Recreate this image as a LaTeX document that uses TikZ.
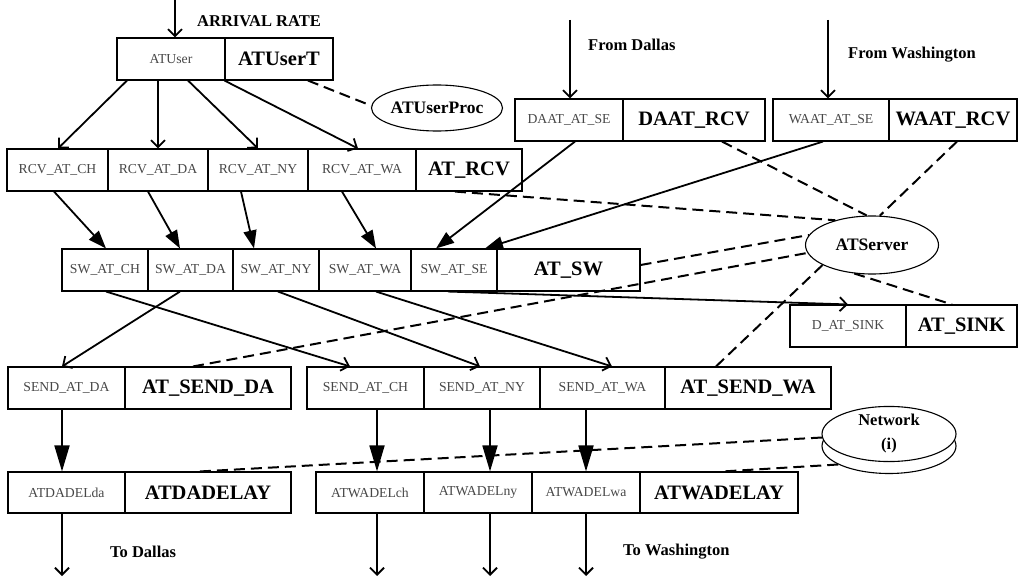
\documentclass[tikz,border=0pt]{standalone}
\usepackage{fontspec}
\setmainfont{Liberation Serif}
\usetikzlibrary{arrows.meta,shapes.geometric}

% one table cell: name, x1, x2, y1, y2, style, text
\newcommand\cellat[7]{%
  \node[#6, minimum width={(#3-#2)*1pt}, minimum height={(#5-#4)*1pt}]
    (#1) at ({(#2+#3)/2},{(#4+#5)/2}) {#7};}

\begin{document}
\begin{tikzpicture}[x=1pt,y=-1pt,
  cell/.style={draw, line width=1.1pt, rectangle, inner sep=0pt, fill=white},
  small/.style={cell, font=\fontsize{13.7}{15}\selectfont, text=black!72},
  big/.style={cell, font=\fontsize{20.5}{23}\selectfont\bfseries},
  oval/.style={draw, ellipse, line width=1.1pt, fill=white, inner sep=0pt,
    font=\fontsize{17.5}{20}\selectfont\bfseries},
  lbl/.style={font=\fontsize{16.5}{19}\selectfont\bfseries, inner sep=0pt, anchor=west},
  flow/.style={line width=1.8pt, -{Straight Barb[length=7pt,width=14pt]}},
  feed/.style={line width=1.8pt, -{Triangle[length=18pt,width=13pt]}},
  drop/.style={line width=1.8pt, -{Triangle[length=26pt,width=15pt]}},
  link/.style={line width=2pt, dash pattern=on 11pt off 6pt},
]
\useasboundingbox (0,0) rectangle (1019,577);

% ---- user source
\cellat{ATUser}{117}{225}{38}{80}{small}{ATUser}
\cellat{ATUserT}{225}{333}{38}{80}{big}{ATUserT}
\node[oval, minimum width=124pt, minimum height=46pt] (ATUserProc) at (437,108) {ATUserProc};

% ---- remote receivers
\cellat{DAATse}{515}{623}{99}{141}{small}{DAAT\_AT\_SE}
\cellat{DAATrcv}{623}{765}{99}{141}{big}{DAAT\_RCV}
\cellat{WAATse}{773}{889}{99}{141}{small}{WAAT\_AT\_SE}
\cellat{WAATrcv}{889}{1017}{99}{141}{big}{WAAT\_RCV}

% ---- receive stage
\cellat{RCVch}{7}{108}{149}{191}{small}{RCV\_AT\_CH}
\cellat{RCVda}{108}{208}{149}{191}{small}{RCV\_AT\_DA}
\cellat{RCVny}{208}{308}{149}{191}{small}{RCV\_AT\_NY}
\cellat{RCVwa}{308}{416}{149}{191}{small}{RCV\_AT\_WA}
\cellat{ATRCV}{416}{522}{149}{191}{big}{AT\_RCV}

% ---- switch stage
\cellat{SWch}{62}{148}{249}{291}{small}{SW\_AT\_CH}
\cellat{SWda}{148}{233}{249}{291}{small}{SW\_AT\_DA}
\cellat{SWny}{233}{319}{249}{291}{small}{SW\_AT\_NY}
\cellat{SWwa}{319}{411}{249}{291}{small}{SW\_AT\_WA}
\cellat{SWse}{411}{497}{249}{291}{small}{SW\_AT\_SE}
\cellat{ATSW}{497}{640}{249}{291}{big}{AT\_SW}

% ---- server
\node[oval, minimum width=133pt, minimum height=58pt] (ATServer) at (872,245) {ATServer};

% ---- sink
\cellat{DSINK}{790}{906}{305}{347}{small}{D\_AT\_SINK}
\cellat{ATSINK}{906}{1017}{305}{347}{big}{AT\_SINK}

% ---- send stage
\cellat{SENDda}{8}{125}{367}{409}{small}{SEND\_AT\_DA}
\cellat{ATSENDda}{125}{291}{367}{409}{big}{AT\_SEND\_DA}
\cellat{SENDch}{307}{424}{367}{409}{small}{SEND\_AT\_CH}
\cellat{SENDny}{424}{540}{367}{409}{small}{SEND\_AT\_NY}
\cellat{SENDwa}{540}{665}{367}{409}{small}{SEND\_AT\_WA}
\cellat{ATSENDwa}{665}{831}{367}{409}{big}{AT\_SEND\_WA}

% ---- delay stage
\cellat{DELda}{8}{125}{472}{513}{small}{ATDADELda}
\cellat{ATDADELAY}{125}{291}{472}{513}{big}{ATDADELAY}
\cellat{DELch}{316}{424}{472}{513}{small}{ATWADELch}
\cellat{DELny}{424}{532}{472}{513}{small}{ATWADELny}
\cellat{DELwa}{532}{640}{472}{513}{small}{ATWADELwa}
\cellat{ATWADELAY}{640}{798}{472}{513}{big}{ATWADELAY}

% ---- network disk
\node[oval, minimum width=134pt, minimum height=55pt] (netbase) at (889,446) {};
\node[oval, minimum width=134pt, minimum height=55pt, align=center,
  font=\fontsize{16.5}{24}\selectfont\bfseries] (net) at (889,434) {Network\\(i)};

% ---- free ends and labels
\coordinate (arrin) at (175,0);
\coordinate (dain) at (570,20);
\coordinate (wain) at (828,20);
\coordinate (daout) at (62,576);
\coordinate (chout) at (377,576);
\coordinate (nyout) at (490,576);
\coordinate (waout) at (586,576);
\node[lbl] (arrlbl) at (197,21) {ARRIVAL RATE};
\node[lbl] (dalbl) at (588,45) {From Dallas};
\node[lbl] (walbl) at (848,55) {From Washington};
\node[lbl] (todalbl) at (110,552) {To Dallas};
\node[lbl] (towalbl) at (623,552) {To Washington};

% ---- dashed resource links
\draw[link] (ATUserT.south -| 308,0) -- (ATUserProc.178);
\draw[link] (ATRCV.south -| 455,0) -- (ATServer.146);
\draw[link] (DAATrcv.south -| 722,0) -- (ATServer.100);
\draw[link] (WAATrcv.south -| 957,0) -- (ATServer.75);
\draw[link] (ATSW.east |- 0,265) -- (ATServer.171);
\draw[link] (ATSENDda.north -| 193,0) -- (ATServer.187);
\draw[link] (ATSENDwa.north -| 716,0) -- (ATServer.202);
\draw[link] (ATServer.238) -- (ATSINK.north -| 952,0);

% ---- inputs
\draw[flow] (arrin) -- (ATUser.north -| 175,0);
\draw[flow] (dain) -- (DAATse.north -| 570,0);
\draw[flow] (wain) -- (WAATse.north -| 828,0);

% ---- user to receive
\draw[flow] (ATUser.south -| 127,0) -- (RCVch.north -| 58,0);
\draw[flow] (ATUser.south -| 158,0) -- (RCVda.north -| 158,0);
\draw[flow] (ATUser.south -| 188,0) -- (RCVny.north -| 258,0);
\draw[flow] (ATUserT.south west) -- (RCVwa.north -| 358,0);

% ---- receive to switch
\draw[feed] (RCVch.south -| 54,0) -- (SWch.north -| 106,0);
\draw[feed] (RCVda.south -| 148,0) -- (SWda.north -| 180,0);
\draw[feed] (RCVny.south -| 241,0) -- (SWny.north -| 254,0);
\draw[feed] (RCVwa.south -| 342,0) -- (SWwa.north -| 376,0);
\draw[feed] (DAATse.south -| 575,0) -- (SWse.north -| 436,0);
\draw[feed] (WAATse.south -| 823,0) -- (SWse.north -| 485,0);

% ---- switch to send
\draw[flow] (SWch.south -| 106,0) -- (SENDch.north -| 350,0);
\draw[flow] (SWda.south -| 180,0) -- (SENDda.north -| 62,0);
\draw[flow] (SWny.south -| 278,0) -- (SENDny.north -| 480,0);
\draw[flow] (SWwa.south -| 376,0) -- (SENDwa.north -| 612,0);
\draw[flow] (SWse.south -| 448,0) -- (DSINK.north -| 848,0);

% ---- send to delay
\draw[drop] (SENDda.south -| 62,0) -- (DELda.north -| 62,0);
\draw[drop] (SENDch.south -| 377,0) -- (DELch.north -| 377,0);
\draw[drop] (SENDny.south -| 490,0) -- (DELny.north -| 490,0);
\draw[drop] (SENDwa.south -| 586,0) -- (DELwa.north -| 586,0);

% ---- network links
\draw[link] (net.183) -- (ATDADELAY.north -| 200,0);
\draw[link] (netbase.200) -- (ATWADELAY.north -| 723,0);

% ---- outputs
\draw[flow] (DELda.south -| 62,0) -- (daout);
\draw[flow] (DELch.south -| 377,0) -- (chout);
\draw[flow] (DELny.south -| 490,0) -- (nyout);
\draw[flow] (DELwa.south -| 586,0) -- (waout);
\end{tikzpicture}
\end{document}
